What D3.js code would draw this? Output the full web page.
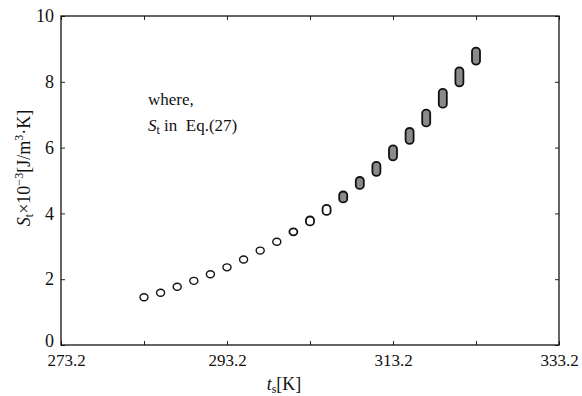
<!DOCTYPE html>
<html>
<head>
<meta charset="utf-8">
<script src="https://cdn.jsdelivr.net/npm/d3@7"></script>
<style>
  body { margin: 0; background: #fff; }
  svg text { font-family: "Liberation Serif", "DejaVu Serif", serif !important; fill: #111; }
</style>
</head>
<body>
<div id="chart"></div>
<script>
// temperature t_s [K] and S_t x 10^-3 [J/m3 K], low / high end of each marker group
const tempK = [283.2, 285.2, 287.2, 289.2, 291.2, 293.2, 295.2, 297.2, 299.2, 301.2,
               303.2, 305.2, 307.2, 309.2, 311.2, 313.2, 315.2, 317.2, 319.2, 321.2, 323.2];
const stLow = [1.45, 1.59, 1.77, 1.95, 2.15, 2.36, 2.60, 2.87, 3.14, 3.44,
               3.74, 4.06, 4.44, 4.85, 5.25, 5.72, 6.22, 6.75, 7.32, 7.97, 8.63];
const stHigh = [1.45, 1.59, 1.77, 1.95, 2.15, 2.36, 2.60, 2.87, 3.14, 3.44,
                3.80, 4.15, 4.56, 5.00, 5.46, 5.96, 6.49, 7.05, 7.68, 8.33, 8.93];

const xTicks = [273.2, 283.2, 293.2, 303.2, 313.2, 323.2, 333.2];
const xLabels = ["273.2", "", "293.2", "", "313.2", "", "333.2"];
const yTicks = [0, 2, 4, 6, 8, 10];

const width = 582, height = 396;
const m = { left: 61, top: 16, right: 23, bottom: 51 };
const w = width - m.left - m.right;
const h = height - m.top - m.bottom;
const serif = '"Liberation Serif", "DejaVu Serif", serif';

const svg = d3.select("#chart").append("svg")
  .attr("width", width)
  .attr("height", height);

const g = svg.append("g")
  .attr("transform", `translate(${m.left},${m.top})`);

const x = d3.scaleLinear().domain([273.2, 333.2]).range([0, w]);
const y = d3.scaleLinear().domain([0, 10]).range([h, 0]);

// axes with inward ticks
const xAxis = d3.axisBottom(x).tickValues(xTicks).tickSizeInner(-4).tickSizeOuter(0)
  .tickPadding(9).tickFormat((d, i) => xLabels[i]);
const xTop = d3.axisTop(x).tickValues(xTicks).tickSizeInner(-4).tickSizeOuter(0).tickFormat("");
const yAxis = d3.axisLeft(y).tickValues(yTicks).tickSizeInner(-4).tickSizeOuter(0)
  .tickPadding(7).tickFormat(d3.format("d"));
const yRight = d3.axisRight(y).tickValues(yTicks).tickSizeInner(-4).tickSizeOuter(0).tickFormat("");

const gx = g.append("g").attr("transform", `translate(0,${h})`).call(xAxis);
g.append("g").call(xTop);
const gy = g.append("g").call(yAxis);
g.append("g").attr("transform", `translate(${w},0)`).call(yRight);

g.selectAll(".domain").remove();
g.selectAll(".tick line").attr("stroke", "#222").attr("stroke-width", 1);
g.selectAll("g").attr("font-family", serif);
gx.selectAll("text").style("font-size", "17px").style("font-family", serif).attr("fill", "#111");
gx.selectAll("text").filter(d => d === 273.2).attr("dx", 5);
gy.selectAll("text").style("font-size", "18px").style("font-family", serif).attr("fill", "#111");
gy.selectAll("text").filter(d => d === 0).attr("dy", "0.1em");

// frame
g.append("rect")
  .attr("width", w).attr("height", h)
  .attr("fill", "none").attr("stroke", "#111").attr("stroke-width", 1.3);

// markers: capsule from low to high value
const pts = tempK.map((t, i) => ({ t: t, lo: stLow[i], hi: stHigh[i] }));
g.selectAll(".pt")
  .data(pts)
  .join("rect")
  .attr("class", "pt")
  .attr("x", d => x(d.t) - 4)
  .attr("y", d => y(d.hi) - 3.5)
  .attr("width", 8)
  .attr("height", d => y(d.lo) - y(d.hi) + 7)
  .attr("rx", 4).attr("ry", 3.5)
  .attr("fill", d => (d.hi - d.lo) > 0.1 ? "#8a8a8a" : "#fff")
  .attr("stroke", "#111")
  .attr("stroke-width", d => d.t > 301 ? 1.8 : 1.4);

// annotation
g.append("text")
  .attr("x", 87).attr("y", 89)
  .style("font-size", "17px")
  .text("where,");
const note = g.append("text")
  .attr("x", 87).attr("y", 115)
  .style("font-size", "17px");
note.append("tspan").style("font-style", "italic").text("S");
note.append("tspan").attr("dy", 3).style("font-size", "12px").text("t");
note.append("tspan").attr("dy", -3).text("\u00a0in\u00a0\u00a0Eq.(27)");

// x title
const xt = svg.append("text")
  .attr("x", 284).attr("y", 390)
  .attr("text-anchor", "middle")
  .style("font-size", "18px");
xt.append("tspan").style("font-style", "italic").text("t");
xt.append("tspan").attr("dy", 3).style("font-size", "12px").text("s");
xt.append("tspan").attr("dy", -3).text("[K]");

// y title
const yt = svg.append("text")
  .attr("transform", "translate(30,168) rotate(-90)")
  .attr("text-anchor", "middle")
  .style("font-size", "18px");
yt.append("tspan").style("font-style", "italic").text("S");
yt.append("tspan").attr("dy", 3).style("font-size", "12px").text("t");
yt.append("tspan").attr("dy", -3).text("\u00d710");
yt.append("tspan").attr("dy", -7).style("font-size", "12px").text("\u22123");
yt.append("tspan").attr("dy", 7).text("[J/m");
yt.append("tspan").attr("dy", -7).style("font-size", "12px").text("3");
yt.append("tspan").attr("dy", 7).text("\u00b7K]");
</script>
</body>
</html>
